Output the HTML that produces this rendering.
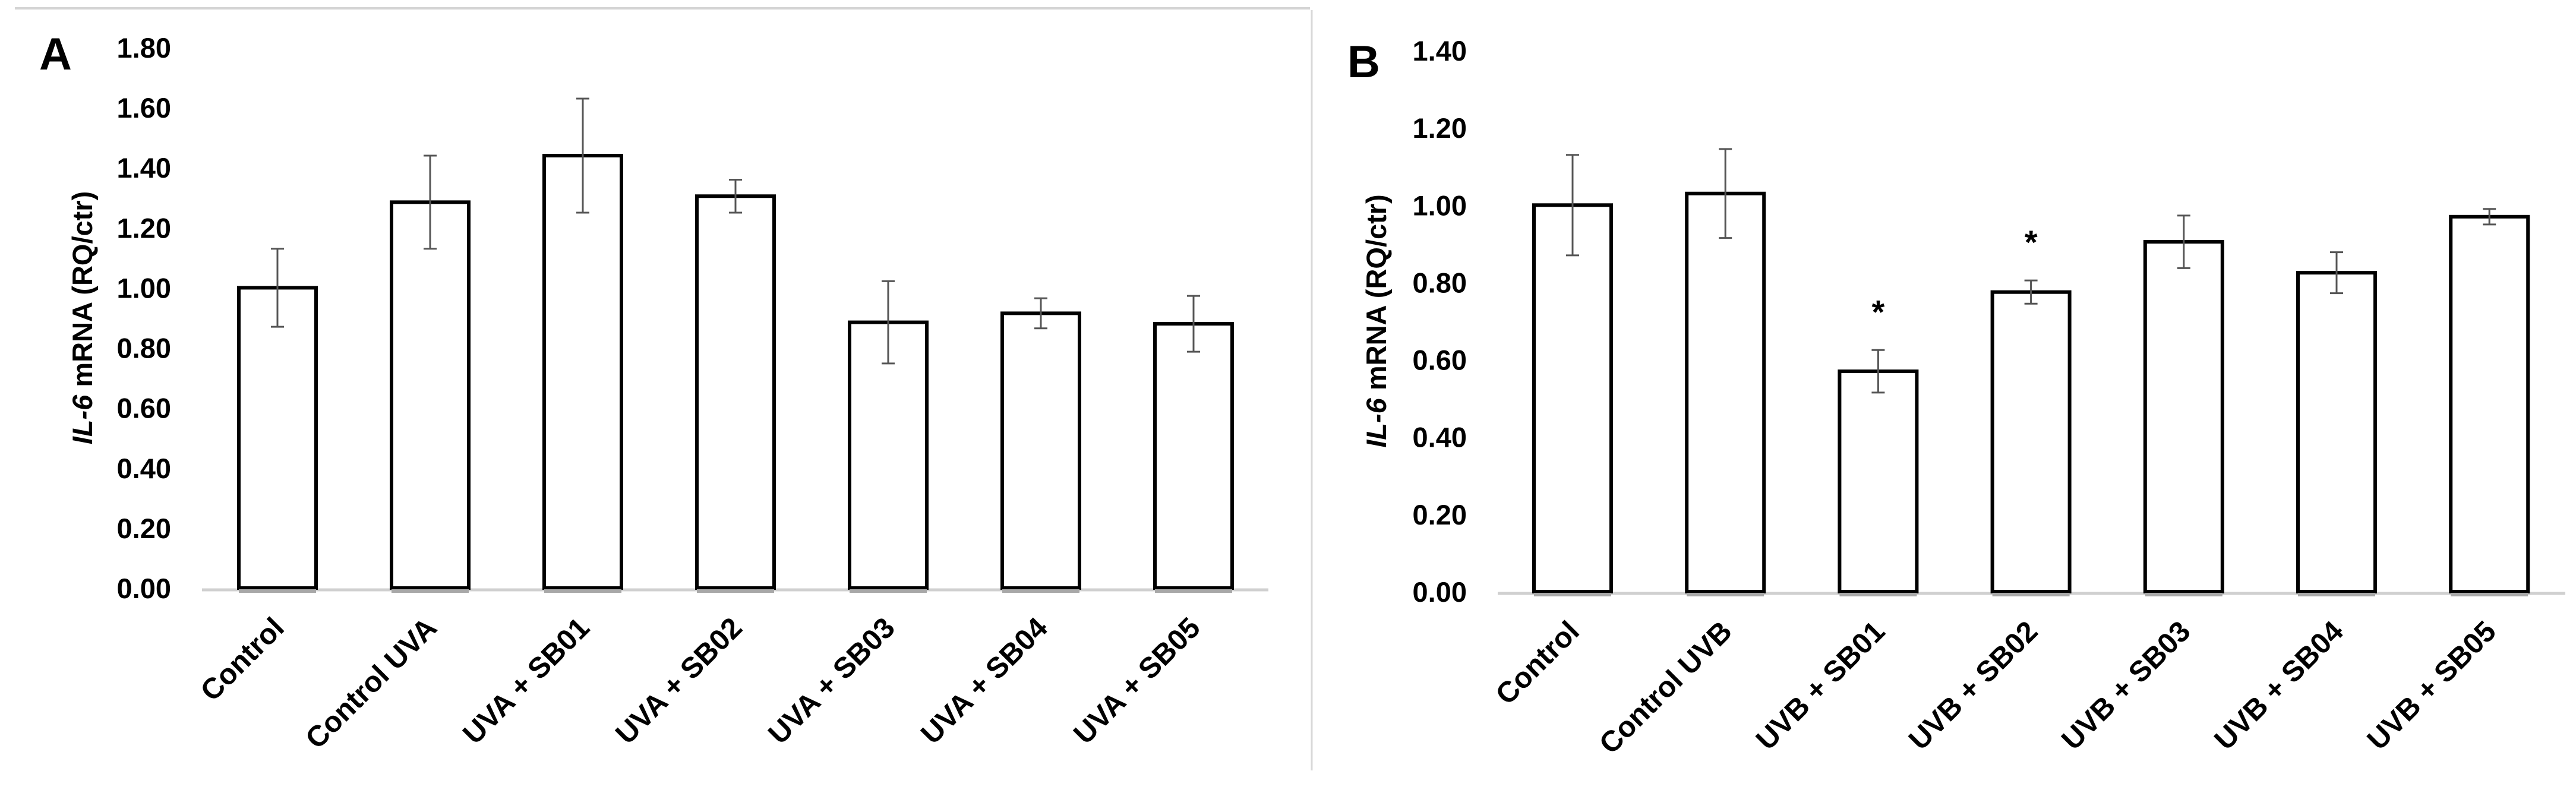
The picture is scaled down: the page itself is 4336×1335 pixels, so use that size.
<!DOCTYPE html>
<html><head><meta charset="utf-8"><style>
html,body{margin:0;padding:0;background:#fff;}
svg text{font-family:"Liberation Sans",sans-serif;font-weight:bold;fill:#000;}
</style></head><body>
<svg id="fig" width="4336" height="1330" viewBox="0 0 4336 1330" xmlns="http://www.w3.org/2000/svg">
<line x1="25" y1="14" x2="2205" y2="14" stroke="#d4d4d4" stroke-width="4"/>
<line x1="2208" y1="17" x2="2208" y2="1297" stroke="#d9d9d9" stroke-width="3"/>
</svg>
<script>
const catsA = ["Control","Control UVA","UVA + SB01","UVA + SB02","UVA + SB03","UVA + SB04","UVA + SB05"];
const valsA = [1.00,1.285,1.44,1.305,0.885,0.915,0.88];
const errA  = [0.13,0.155,0.19,0.055,0.137,0.05,0.093];
const ticksA = [0,0.2,0.4,0.6,0.8,1.0,1.2,1.4,1.6,1.8];
const catsB = ["Control","Control UVB","UVB + SB01","UVB + SB02","UVB + SB03","UVB + SB04","UVB + SB05"];
const valsB = [1.00,1.03,0.57,0.775,0.905,0.825,0.97];
const errB  = [0.13,0.115,0.055,0.03,0.068,0.053,0.02];
const ticksB = [0,0.2,0.4,0.6,0.8,1.0,1.2,1.4];
const starsB = [false,false,true,true,false,false,false];

const NS="http://www.w3.org/2000/svg";
const svg=document.getElementById('fig');
function mk(tag,attrs,parent){const e=document.createElementNS(NS,tag);for(const k in attrs)e.setAttribute(k,attrs[k]);(parent||svg).appendChild(e);return e;}

function panel(cfg){
  const g=mk('g',{});
  
  
  const ymax=cfg.ticks[cfg.ticks.length-1];
  const y=v=>cfg.y0-(v/ymax)*(cfg.y0-cfg.yTop);
  const x=i=>cfg.x0+i*cfg.step;
  const lab=mk('text',{x:cfg.labX,y:cfg.labY,'font-size':76},g);lab.textContent=cfg.letter;
  
  
  cfg.ticks.forEach(t=>{
    const tt=mk('text',{x:cfg.tickX,y:y(t)+17,'font-size':47,'text-anchor':'end'},g);
    tt.textContent=t.toFixed(2);
    
    
  });
  const tl=mk('text',{'font-size':47,'text-anchor':'middle',transform:`translate(${cfg.titleX},${(cfg.y0+cfg.yTop)/2}) rotate(-90)`},g);
  tl.innerHTML='<tspan font-style="italic">IL-6</tspan> mRNA (RQ/ctr)';
  
  
  const ax=mk('line',{x1:cfg.axL,x2:cfg.axR,y1:cfg.y0+3,y2:cfg.y0+3,stroke:'#d0d0d0','stroke-width':5},g);
  
  
  cfg.vals.forEach((v,i)=>{
    const cx=x(i),w=130;
    const r=mk('rect',{x:cx-w/2,y:y(v),width:w,height:cfg.y0-y(v),fill:'#fff',stroke:'#000','stroke-width':6},g);
    
    
    mk('line',{x1:cx-w/2,x2:cx+w/2,y1:cfg.y0+5,y2:cfg.y0+5,stroke:'#a8a8a8','stroke-width':6},g);
    const e=cfg.err[i];
    const eg=mk('g',{stroke:'#555','stroke-width':3},g);
    
    
    mk('line',{x1:cx,x2:cx,y1:y(v+e),y2:y(v-e)},eg);
    mk('line',{x1:cx-11,x2:cx+11,y1:y(v+e),y2:y(v+e)},eg);
    mk('line',{x1:cx-11,x2:cx+11,y1:y(v-e),y2:y(v-e)},eg);
    if(cfg.stars&&cfg.stars[i]){
      const s=mk('text',{x:cx,y:y(v+e)-45,'font-size':56,'text-anchor':'middle'},g);
      s.textContent='*';
      
      
    }
    const xl=mk('text',{'font-size':49,'text-anchor':'end',transform:`translate(${cx+14},${cfg.y0+70}) rotate(-45)`},g);
    xl.textContent=cfg.cats[i];
    
    
  });
}
panel({id:'panel-a',letter:'A',labX:66,labY:117,tickX:288,titleX:155,y0:990,yTop:80,x0:467,step:257,axL:340,axR:2135,
  cats:catsA,vals:valsA,err:errA,ticks:ticksA});
panel({id:'panel-b',letter:'B',labX:2268,labY:130,tickX:2469,titleX:2333,y0:996,yTop:85,x0:2647,step:257.2,axL:2521,axR:4318,
  cats:catsB,vals:valsB,err:errB,ticks:ticksB,stars:starsB});
</script>
</body></html>
